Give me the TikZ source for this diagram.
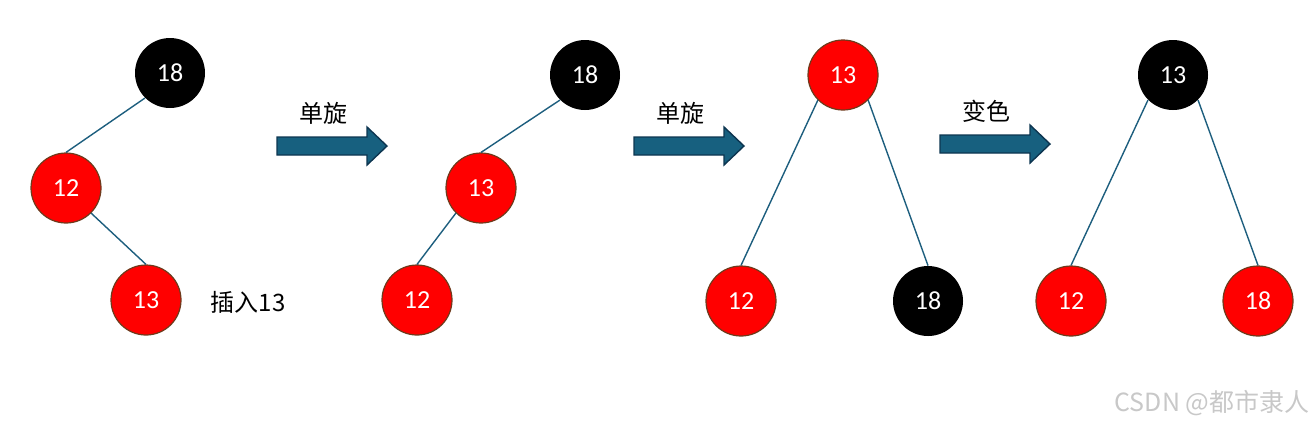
\documentclass[tikz,border=0pt]{standalone}
\usepackage{fontspec}
\setmainfont{Carlito}
\newfontfamily\cjk{Noto Sans CJK SC}
\usetikzlibrary{positioning}
\definecolor{nodered}{HTML}{FF0000}
\definecolor{rim}{HTML}{6E3A1C}
\definecolor{edge}{HTML}{1D5E7E}
\definecolor{arrfill}{HTML}{17607F}
\definecolor{arrrim}{HTML}{0D3550}
\definecolor{mark}{HTML}{C8C8C8}

\begin{document}
\begin{tikzpicture}[x=.5pt,y=-.5pt,
    rb/.style={circle,minimum size=35pt,inner sep=0pt,text=white,font=\fontsize{13}{13}\selectfont},
    red/.style={rb,fill=nodered,draw=rim,line width=.6pt},
    blk/.style={rb,fill=black},
    link/.style={edge,line width=.7pt},
    lbl/.style={font=\cjk\fontsize{12}{12}\selectfont}]
  \useasboundingbox (0,0) rectangle (1316,425);
  % stage 1: insert
  \node[blk] (a18) at (170,73) {18};
  \node[red] (a12) at (66,188) {12};
  \node[red] (a13) at (146,300) {13};
  \node[lbl] (ins) at (248,302) {插入13};
  \draw[link] (a18.south west)--(a12.north) (a12.south east)--(a13.north);
  % stage 2
  \node[blk] (b18) at (585,75) {18};
  \node[red] (b13) at (481,188) {13};
  \node[red] (b12) at (417,300) {12};
  \draw[link] (b18.south west)--(b13.north) (b13.south west)--(b12.north);
  % stage 3
  \node[red] (c13) at (843,75) {13};
  \node[red] (c12) at (741,301) {12};
  \node[blk] (c18) at (928,301) {18};
  \draw[link] (c13.south west)--(c12.north) (c13.south east)--(c18.north);
  % stage 4: recolour
  \node[blk] (d13) at (1173,75) {13};
  \node[red] (d12) at (1071,301) {12};
  \node[red] (d18) at (1258,301) {18};
  \draw[link] (d13.south west)--(d12.north) (d13.south east)--(d18.north);
  % block arrows between stages
  \foreach \x/\y/\t/\n in {277/146/单旋/s1,634/146/单旋/s2,940/144/变色/s3}{
    \filldraw[fill=arrfill,draw=arrrim,line width=.7pt]
      (\x,\y-9)--(\x+90,\y-9)--(\x+90,\y-19)--(\x+110,\y)--(\x+90,\y+19)
      --(\x+90,\y+9)--(\x,\y+9)--cycle;
    \node[lbl] (\n) at (\x+46,\y-33) {\t};
  }
  \node[font=\cjk\fontsize{12.5}{12.5}\selectfont,text=mark] (wm) at (1212,403) {CSDN @都市隶人};
\end{tikzpicture}
\end{document}
